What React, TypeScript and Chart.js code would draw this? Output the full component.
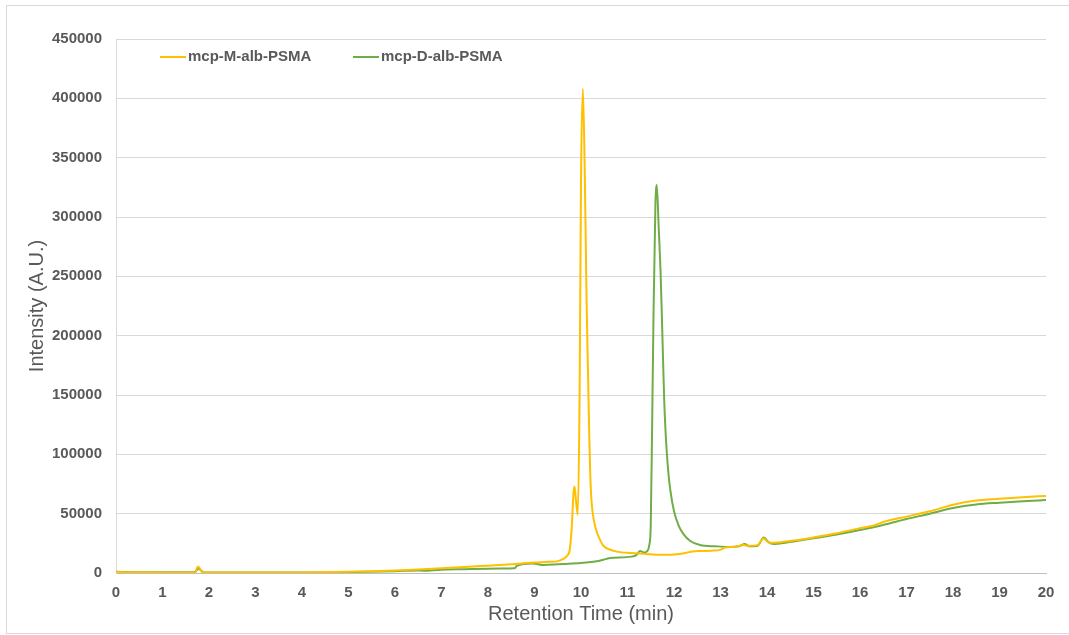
import React, { useEffect, useRef } from "react";
import { Chart, registerables } from "chart.js";

Chart.register(...registerables);

const seriesNames = ["mcp-M-alb-PSMA", "mcp-D-alb-PSMA"];
const seriesColors = ["#FFC000", "#70AD47"];

const timesM = [
  0, 0.5, 1, 1.5, 1.7, 1.76, 1.8, 1.85, 2, 3, 4, 5, 5.5, 6, 6.5, 7, 7.5, 8, 8.5, 9, 9.3, 9.5, 9.6, 9.7,
  9.76, 9.8, 9.84, 9.86, 9.89, 9.93, 9.97, 10.0, 10.04, 10.08, 10.12, 10.15, 10.18, 10.2, 10.22, 10.25, 10.3,
  10.35, 10.48, 10.6, 10.77, 11.1, 11.4, 11.7, 12.0, 12.27, 12.4, 12.56, 12.8, 13.0, 13.1, 13.3, 13.5, 13.6,
  13.8, 13.92, 14.05, 14.3, 14.6, 15, 15.5, 16, 16.3, 16.5, 17, 17.5, 18, 18.5, 19, 19.5, 20,
];
const intensityM = [
  800, 600, 500, 500, 600, 5500, 4000, 800, 500, 400, 500, 1000, 1500, 2200, 3000, 3900, 5000, 6200, 7400, 8800,
  9400, 10000, 11500, 14500, 20000, 38000, 68000, 72800, 62000, 49000, 150000, 330000, 408000, 340000, 230000,
  170000, 112000, 82000, 64000, 51000, 40000, 33500, 23000, 20000, 18000, 16800, 16000, 15300, 15600, 17100,
  18200, 18500, 18800, 19500, 21500, 22000, 23500, 23000, 23500, 29000, 25500, 26000, 27500, 30000, 33500,
  37800, 40000, 43000, 47500, 52000, 57500, 61000, 62600, 63900, 64900,
];

const timesD = [
  0, 0.5, 1, 1.5, 1.7, 1.77, 1.82, 1.88, 2, 3, 4, 5, 6, 6.5, 6.6, 7, 7.5, 8, 8.26, 8.57, 8.62, 8.97, 9.19,
  9.5, 10.05, 10.3, 10.55, 10.62, 11.09, 11.2, 11.27, 11.36, 11.41, 11.47, 11.5, 11.53, 11.56, 11.6, 11.63,
  11.67, 11.71, 11.74, 11.77, 11.79, 11.82, 11.85, 11.88, 11.92, 12.0, 12.1, 12.2, 12.35, 12.56, 12.9, 13.2,
  13.4, 13.52, 13.62, 13.8, 13.93, 14.03, 14.15, 14.4, 14.6, 15, 15.5, 16, 16.5, 17, 17.5, 18, 18.5, 19, 19.5,
  20,
];
const intensityD = [
  1000, 700, 600, 600, 800, 3500, 2500, 700, 500, 400, 400, 800, 1500, 2200, 1800, 2800, 3200, 3600, 3700,
  3900, 6000, 8100, 6700, 7300, 8700, 9600, 11900, 12600, 13800, 15500, 18600, 17200, 18000, 24000, 40000,
  125000, 220000, 310000, 327000, 292000, 255000, 215000, 172000, 145000, 118000, 99000, 84000, 70000, 52000,
  40000, 33000, 27000, 23600, 22500, 22000, 22500, 24500, 22500, 23000, 30000, 26000, 24500, 25500, 26800,
  29200, 32500, 36300, 40500, 45500, 50000, 54800, 57800, 59300, 60500, 61500,
];

const xTitle = "Retention Time (min)";
const yTitle = "Intensity (A.U.)";
const xMin = 0;
const xMax = 20;
const xStep = 1;
const yMin = 0;
const yMax = 450000;
const yStep = 50000;

const FONT = '"Liberation Sans", Arial, sans-serif';
const TEXT = "#595959";

const legendPlugin = {
  id: "insideLegend",
  afterDraw(chart: any) {
    const ctx = chart.ctx;
    const { left, top } = chart.chartArea;
    ctx.save();
    ctx.font = `bold 15px ${FONT}`;
    ctx.textBaseline = "middle";
    const starts = [left + 44, left + 237];
    const y = top + 18;
    seriesNames.forEach((name, i) => {
      const x = starts[i];
      ctx.strokeStyle = seriesColors[i];
      ctx.lineWidth = 2;
      ctx.beginPath();
      ctx.moveTo(x, y);
      ctx.lineTo(x + 26, y);
      ctx.stroke();
      ctx.fillStyle = TEXT;
      ctx.fillText(name, x + 28, y);
    });
    ctx.restore();
  },
};

export default function App() {
  const ref = useRef<HTMLCanvasElement>(null);

  useEffect(() => {
    if (!ref.current) return;
    const mk = (xs: number[], ys: number[]) => xs.map((x, i) => ({ x, y: ys[i] }));
    const chart = new Chart(ref.current, {
      type: "line",
      data: {
        datasets: [
          {
            label: seriesNames[0],
            data: mk(timesM, intensityM),
            borderColor: seriesColors[0],
            backgroundColor: seriesColors[0],
            borderWidth: 2,
            pointRadius: 0,
            cubicInterpolationMode: "monotone",
          },
          {
            label: seriesNames[1],
            data: mk(timesD, intensityD),
            borderColor: seriesColors[1],
            backgroundColor: seriesColors[1],
            borderWidth: 2,
            pointRadius: 0,
            cubicInterpolationMode: "monotone",
          },
        ],
      },
      options: {
        animation: false,
        responsive: false,
        parsing: false as any,
        layout: { padding: { left: 21, right: 23, top: 39, bottom: 5 } },
        plugins: {
          legend: { display: false },
          tooltip: { enabled: false },
        },
        scales: {
          x: {
            type: "linear",
            min: xMin,
            max: xMax,
            ticks: {
              stepSize: xStep,
              color: TEXT,
              font: { family: FONT, size: 15, weight: "bold" },
              padding: 11,
              callback: (v: any) => String(v),
            },
            grid: { display: false, drawTicks: false },
            border: { display: true, color: "#BFBFBF", width: 1 },
            title: {
              display: true,
              text: xTitle,
              color: TEXT,
              font: { family: FONT, size: 20 },
              padding: { top: 4, bottom: 4 },
            },
            afterFit: (s: any) => {
              s.height = 57;
            },
          },
          y: {
            type: "linear",
            min: yMin,
            max: yMax,
            ticks: {
              stepSize: yStep,
              color: TEXT,
              font: { family: FONT, size: 15, weight: "bold" },
              padding: 14,
              callback: (v: any) => String(v),
            },
            grid: { color: "#D9D9D9", lineWidth: 1, drawTicks: false },
            border: { display: true, color: "#D9D9D9", width: 1 },
            title: {
              display: true,
              text: yTitle,
              color: TEXT,
              font: { family: FONT, size: 20 },
              padding: { top: 4, bottom: 4 },
            },
            afterFit: (s: any) => {
              s.width = 95;
            },
          },
        },
      },
      plugins: [legendPlugin],
    });
    return () => chart.destroy();
  }, []);

  return (
    <div style={{ position: "fixed", left: 0, top: 0, width: 1069, height: 635, background: "#fff", overflow: "hidden" }}>
      <div
        style={{
          position: "absolute",
          left: 6,
          top: 5,
          width: 1080,
          height: 629,
          border: "1px solid #D9D9D9",
          boxSizing: "border-box",
        }}
      />
      <canvas ref={ref} width={1069} height={635} style={{ position: "absolute", left: 0, top: 0 }} />
    </div>
  );
}
